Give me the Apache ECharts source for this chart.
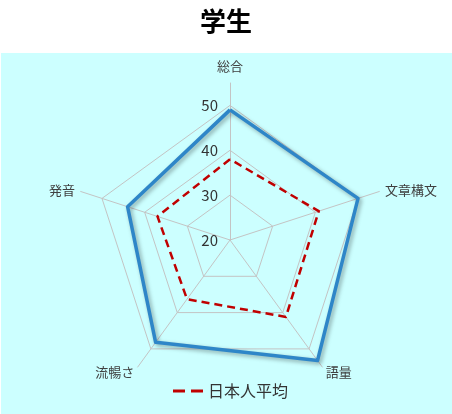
<!DOCTYPE html>
<html>
<head>
<meta charset="utf-8">
<script src="https://cdn.jsdelivr.net/npm/echarts@6/dist/echarts.min.js"></script>
<style>
html,body{margin:0;padding:0;background:#fff;}
#c{width:452px;height:414px;}
</style>
</head>
<body>
<div id="c"></div>
<script>
// order as ECharts lays them out (counter-clockwise from top)
const indicators = ['総合', '発音', '流暢さ', '語量', '文章構文'];
const studentValues = [49, 44, 48.2, 53.2, 50];
const averageValues = [38, 37, 36.3, 41.2, 40.8];
const axisMin = 20;
const axisMax = 50;
const tickLabels = [20, 30, 40, 50];

const chart = echarts.init(document.getElementById('c'));
const font = '"Noto Sans CJK JP", "Noto Sans", sans-serif';

chart.setOption({
  animation: false,
  backgroundColor: '#ffffff',
  textStyle: { fontFamily: font },
  title: {
    text: '学生',
    left: 'center',
    top: 3,
    textStyle: { fontSize: 26, fontWeight: 'bold', color: '#000', fontFamily: font }
  },
  graphic: [{
    type: 'rect', z: -10, silent: true,
    shape: { x: 1, y: 53, width: 451, height: 361 },
    style: { fill: '#CCFFFF' }
  }],
  legend: {
    data: ['日本人平均'],
    bottom: 10,
    left: 168,
    itemWidth: 30,
    itemHeight: 3,
    itemGap: 10,
    icon: 'path://M0,0h12v3h-12z M18,0h12v3h-12z',
    textStyle: { fontSize: 16, color: '#333', fontFamily: font }
  },
  radar: [{
    center: [230, 240],
    radius: 134.6,
    startAngle: 90,
    splitNumber: 3,
    shape: 'polygon',
    axisName: { show: false },
    axisLine: { show: false },
    splitLine: { lineStyle: { color: '#c4c4c4', width: 1 } },
    splitArea: { show: false },
    axisLabel: { show: false },
    axisTick: { show: false },
    indicator: indicators.map((n, i) => i === 0 ? {
      name: n, min: axisMin, max: axisMax,
      axisLabel: {
        show: true, margin: 12, fontSize: 15, color: '#333', fontFamily: font,
        formatter: v => tickLabels.indexOf(v) >= 0 ? String(v) : ''
      }
    } : { name: n, min: axisMin, max: axisMax })
  }, {
    center: [230, 240],
    radius: 157,
    startAngle: 90,
    splitNumber: 1,
    shape: 'polygon',
    nameGap: 6,
    axisName: {
      color: '#404040', fontSize: 13, fontFamily: font,
      formatter: n => n === indicators[0] ? '{t|' + n + '}' : n,
      rich: { t: { color: '#404040', fontSize: 13, fontFamily: font, padding: [0, 0, 4, 0] } }
    },
    axisLine: { show: true, lineStyle: { color: '#c4c4c4', width: 1 } },
    splitLine: { show: false },
    splitArea: { show: false },
    axisLabel: { show: false },
    axisTick: { show: false },
    indicator: indicators.map(n => ({ name: n, min: 0, max: 1 }))
  }],
  series: [{
    name: '学生',
    type: 'radar',
    radarIndex: 0,
    symbol: 'none',
    z: 3,
    lineStyle: {
      color: '#2E86C8', width: 3.5,
      shadowColor: 'rgba(0,0,0,0.35)', shadowBlur: 4, shadowOffsetX: 2, shadowOffsetY: 2
    },
    itemStyle: { color: '#2E86C8' },
    data: [{ value: studentValues, name: '学生' }]
  }, {
    name: '日本人平均',
    type: 'radar',
    radarIndex: 0,
    symbol: 'none',
    z: 4,
    lineStyle: { color: '#C00000', width: 2.5, type: [8, 5] },
    itemStyle: { color: '#C00000' },
    data: [{ value: averageValues, name: '日本人平均' }]
  }]
});
</script>
</body>
</html>
